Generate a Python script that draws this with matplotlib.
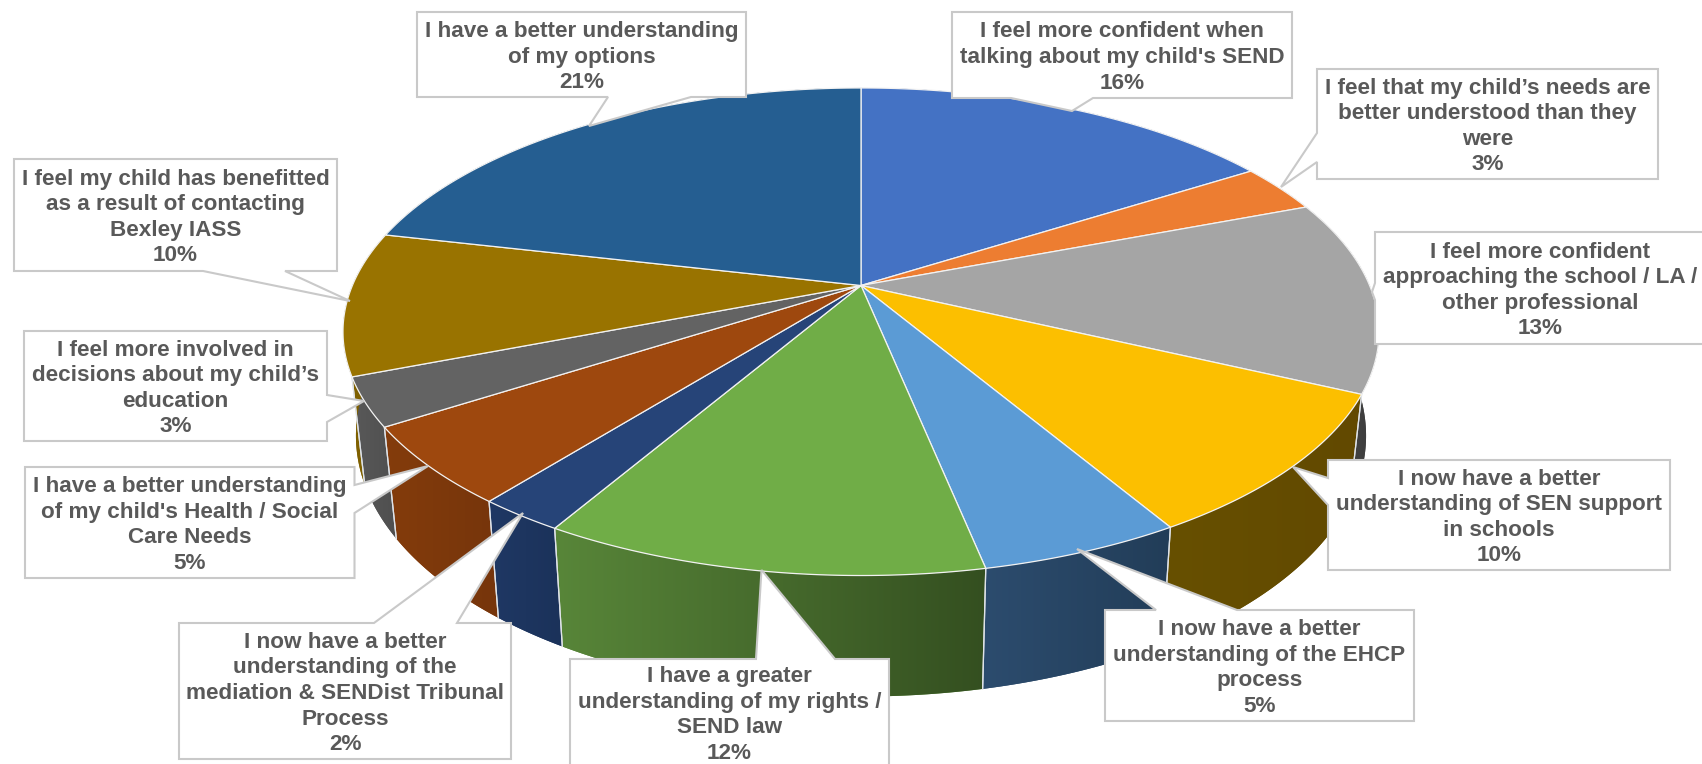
import numpy as np
import matplotlib
matplotlib.use('Agg')
import matplotlib.pyplot as plt
from matplotlib.patches import Polygon

values = [16.0, 3.2, 12.8, 9.5, 5.3, 11.6, 2.3, 5.2, 3.2, 9.5, 21.4]
percents = [16, 3, 13, 10, 5, 12, 2, 5, 3, 10, 21]
labels = [
    "I feel more confident when\ntalking about my child's SEND",
    "I feel that my child’s needs are\nbetter understood than they\nwere",
    "I feel more confident\napproaching the school / LA /\nother professional",
    "I now have a better\nunderstanding of SEN support\nin schools",
    "I now have a better\nunderstanding of the EHCP\nprocess",
    "I have a greater\nunderstanding of my rights /\nSEND law",
    "I now have a better\nunderstanding of the\nmediation & SENDist Tribunal\nProcess",
    "I have a better understanding\nof my child's Health / Social\nCare Needs",
    "I feel more involved in\ndecisions about my child’s\neducation",
    "I feel my child has benefitted\nas a result of contacting\nBexley IASS",
    "I have a better understanding\nof my options",
]

top_colors = ['#4472c4', '#ed7d31', '#a5a5a5', '#fcbf00', '#5b9bd5', '#70ad47',
              '#264478', '#9e480e', '#636363', '#997300', '#255e91']
wall_left = ['#2f5496', '#a85a20', '#4a4a4a', '#675000', '#2c4c6e', '#588639',
             '#1f3864', '#843c0c', '#595959', '#7f6000', '#1f4e79']
wall_right = ['#2f5496', '#a85a20', '#3c3c3c', '#624900', '#223d58', '#344f20',
              '#1b325a', '#76350b', '#4f4f4f', '#7f6000', '#1f4e79']

# Pie geometry in pixels, perspective ellipse around the apex
cx, cy = 861, 285.5
A, B, k = 508.6, 235.0, 0.1897
wall_scale = 0.975
wall_d0, wall_d1 = 100.0, 21.0

# Callout layout: left, top, right, bottom, side, base start, base end, tip
boxes = [
    (952, 12, 1292, 98, 'bottom', 1011, 1093, (1072, 111)),
    (1317, 69, 1658, 179, 'left', 133, 162, (1281, 187)),
    (1375, 232, 1706, 344, 'left', 283, 300, (1372, 292)),
    (1328, 460, 1670, 570, 'left', 478, 505, (1293, 467)),
    (1105, 610, 1414, 721, 'top', 1156, 1237, (1077, 549)),
    (570, 659, 889, 766, 'top', 756, 835, (761.5, 570)),
    (179, 623, 511, 759, 'top', 374, 457, (523, 513)),
    (25, 467, 354.5, 578, 'right', 485, 513, (428, 466)),
    (24, 331, 327, 441, 'right', 395, 422, (364, 401)),
    (14, 159, 337, 271, 'bottom', 203, 285, (350, 301)),
    (417, 12, 746, 97, 'bottom', 608, 691, (589, 126)),
]


def top_point(a):
    u, v = np.sin(a), np.cos(a)
    w = 1 + k * v
    return cx + A * u / w, cy - B * v / w


def wall_point(a):
    x, y = top_point(a)
    return cx + wall_scale * (x - cx), y + wall_d0 - wall_d1 * np.cos(a)


def callout_path(box):
    l, t, r, b, side, s, e, tip = box
    if side == 'bottom':
        return [(l, t), (r, t), (r, b), (e, b), tip, (s, b), (l, b)]
    if side == 'top':
        return [(l, t), (s, t), tip, (e, t), (r, t), (r, b), (l, b)]
    if side == 'left':
        return [(l, t), (r, t), (r, b), (l, b), (l, e), tip, (l, s)]
    return [(l, t), (r, t), (r, s), tip, (r, e), (r, b), (l, b)]


fig = plt.figure(figsize=(17.02, 7.64), dpi=100)
ax = fig.add_axes([0, 0, 1, 1])
ax.axis('off')

edges = np.cumsum([0] + values) / sum(values) * 2 * np.pi

# Side walls first, one gradient image clipped to each wall
grad = np.linspace(0, 1, 256)[None, :, None]
for i in range(len(values)):
    a0, a1 = edges[i], edges[i + 1]
    steps = np.linspace(a0, a1, 80)
    pts = [top_point(a) for a in steps] + [wall_point(a) for a in steps[::-1]]
    xs = [p[0] for p in pts]
    ys = [p[1] for p in pts]
    ax.fill(xs, ys, color=wall_left[i], lw=0, zorder=1)
    c0 = np.array(matplotlib.colors.to_rgb(wall_left[i]))
    c1 = np.array(matplotlib.colors.to_rgb(wall_right[i]))
    im = ax.imshow(c0 * (1 - grad) + c1 * grad, extent=(min(xs), max(xs), max(ys), min(ys)),
                   aspect='auto', interpolation='bilinear', zorder=2)
    im.set_clip_path(Polygon(pts, transform=ax.transData))
    for a in (a0, a1):
        if np.cos(a) < 0:
            p, q = top_point(a), wall_point(a)
            ax.plot([p[0], q[0]], [p[1], q[1]], color='#dfe3e8', lw=0.9, zorder=3)

# Top slices
for i in range(len(values)):
    steps = np.linspace(edges[i], edges[i + 1], 80)
    pts = [top_point(a) for a in steps]
    ax.fill([cx] + [p[0] for p in pts], [cy] + [p[1] for p in pts],
            facecolor=top_colors[i], edgecolor='#f2f2f2', lw=0.9, zorder=4)

# Callouts with their text
for i, box in enumerate(boxes):
    path = callout_path(box)
    ax.fill([p[0] for p in path], [p[1] for p in path], facecolor='white',
            edgecolor='#c9c9c9', lw=1.5, zorder=5, joinstyle='miter')
    ax.text((box[0] + box[2]) / 2, (box[1] + box[3]) / 2 + 2.5, f"{labels[i]}\n{percents[i]}%",
            ha='center', va='center', color='#595959', fontsize=16.2, fontweight='bold',
            family='Liberation Sans', linespacing=1.29, zorder=6)

ax.set_xlim(0, 1702)
ax.set_ylim(764, 0)
fig.savefig('out.png', dpi=100, facecolor='white')
